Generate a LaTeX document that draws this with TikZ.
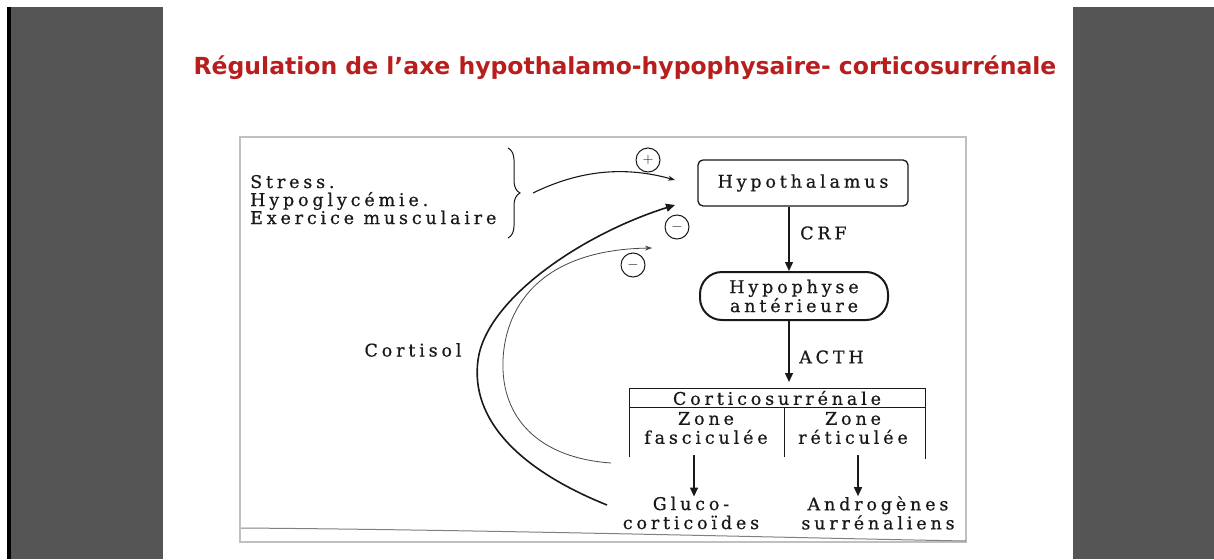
\documentclass[tikz,border=0pt]{standalone}
\usepackage{fontspec}
\newfontfamily\scanfont{DejaVu Serif}[LetterSpace=22,FakeBold=0.6]
\newfontfamily\titlefont{DejaVu Sans}
\usetikzlibrary{arrows.meta,decorations.pathreplacing,calc}
\definecolor{barcol}{RGB}{85,85,85}
\definecolor{framecol}{RGB}{192,192,192}
\definecolor{titlered}{RGB}{185,30,30}
\definecolor{ink}{RGB}{25,25,25}
\tikzset{
  txt/.style={font=\scanfont\fontsize{17.5}{19}\selectfont, text=ink, inner sep=0pt},
  organ/.style={txt, draw=ink, line width=1.3pt, rounded corners=5pt},
  sign/.style={circle, draw=ink, line width=1pt, minimum size=24pt, inner sep=0pt, text=ink, font=\fontsize{14}{14}\selectfont},
  flow/.style={draw=ink, line width=1.4pt, -{Triangle[length=9pt,width=8pt]}},
  thinflow/.style={draw=ink, line width=0.8pt, -{Stealth[length=7pt,width=5pt]}},
  rule/.style={draw=ink, line width=1pt}
}
\begin{document}
\begin{tikzpicture}[x=1pt,y=-1pt]
\useasboundingbox (0,0) rectangle (1214,559);
% slide background and side bars
\fill[white] (0,0) rectangle (1214,559);
\fill[barcol] (7,7) rectangle (163,559);
\fill[black] (7,7) rectangle (11,559);
\fill[barcol] (1073,7) rectangle (1214,559);

% title
\node[font=\titlefont\bfseries\fontsize{23.5}{27}\selectfont, text=titlered] (title) at (625,68)
  {Régulation de l’axe hypothalamo-hypophysaire- corticosurrénale};

% scanned figure frame
\draw[framecol, line width=1.2pt] (240,137) rectangle (966,542);
\draw[gray, line width=1pt] (241,528) .. controls (500,530) and (800,538) .. (966,541);

% triggers
\node[txt, anchor=base west] (s1) at (250,188) {Stress.};
\node[txt, anchor=base west] (s2) at (250,206) {Hypoglycémie.};
\node[txt, anchor=base west] (s3) at (250,224) {Exercice musculaire};
\draw[ink, line width=1pt, decorate, decoration={brace, amplitude=12pt}] (508,148) -- (508,238);
\coordinate (btip) at (533,193);

% main axis
\node[organ, minimum width=210pt, minimum height=46pt] (hypo) at (803,183) {Hypothalamus};
\node[txt, draw=ink, line width=2pt, rounded corners=22pt, minimum width=188pt, minimum height=48pt, align=center] (pit) at (794,296)
  {Hypophyse\\antérieure};
\coordinate (axis) at (789,0);
\draw[flow] (hypo.south -| axis) -- (pit.north -| axis);
\node[txt, anchor=west] (crf) at (800,233) {CRF};
\coordinate (cstop) at (789,388);
\draw[flow, shorten >=6pt] (pit.south -| axis) -- (cstop);
\node[txt, anchor=west] (acth) at (799,357) {ACTH};

% adrenal cortex table
\node[txt] (cs) at (777,398) {Corticosurrénale};
\node[txt, align=center] (zf) at (706,428) {Zone\\fasciculée};
\node[txt, align=center] (zr) at (853,428) {Zone\\réticulée};
\draw[rule] (629,457) -- (629,388) -- (925,388) -- (925,459);
\draw[rule] (629,407) -- (925,407);
\draw[rule] (784,407) -- (784,457);

% products
\node[txt, align=center] (gluco) at (691,513) {Gluco-\\corticoïdes};
\node[txt, align=center] (andro) at (878,513) {Androgènes\\surrénaliens};
\coordinate (ga) at (694,455);
\coordinate (ra) at (858,455);
\draw[flow] (ga) -- (ga |- gluco.north);
\draw[flow] (ra) -- (ra |- andro.north);

% stimulation of the hypothalamus
\node[sign] (pl) at (648,160) {$+$};
\coordinate (plend) at (675,180);
\draw[thinflow, line width=1.1pt] (btip) .. controls (580,170) and (625,166) .. (plend);

% cortisol feedback loops
\node[txt] (cort) at (413,350) {Cortisol};
\node[sign] (mn1) at (677,227) {$-$};
\node[sign] (mn2) at (633,265) {$-$};
\coordinate (fbA) at (607,505);
\coordinate (fbAend) at (675,205);
\coordinate (fbB) at (611,463);
\coordinate (fbBend) at (652,248);
\draw[flow, line width=1.6pt] (fbA) .. controls (520,470) and (470,420) .. (478,360)
  .. controls (486,300) and (580,235) .. (fbAend);
\draw[thinflow, draw=ink!80] (fbB) .. controls (540,458) and (505,420) .. (503,370)
  .. controls (501,318) and (530,250) .. (fbBend);
\end{tikzpicture}
\end{document}
